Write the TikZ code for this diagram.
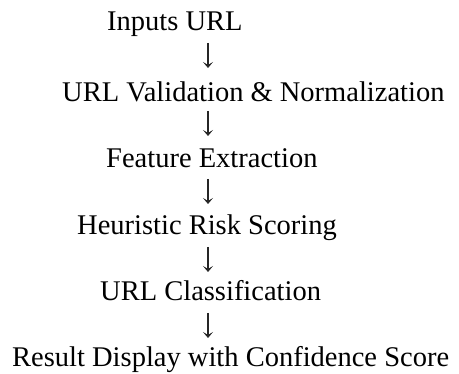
\documentclass[tikz,border=0pt]{standalone}
\usepackage{fontspec}
\setmainfont{Liberation Serif}
\usetikzlibrary{arrows.meta}
\begin{document}
\begin{tikzpicture}[x=1pt,y=-1pt,
  stagetext/.style={anchor=base west, inner sep=0pt, font=\fontsize{28.5}{33}\selectfont},
  flowarrow/.style={-{Stealth[length=6pt,width=10pt,inset=3pt]}, line width=1.1pt, draw=black!85}]
\useasboundingbox (0,0) rectangle (459,374);

% pipeline stages
\node[stagetext] (inp)  at (107,31)  {Inputs URL};
\node[stagetext] (val)  at (62,102)  {URL Validation \& Normalization};
\node[stagetext] (feat) at (106,168) {Feature Extraction};
\node[stagetext] (heur) at (77,235)  {Heuristic Risk Scoring};
\node[stagetext] (cls)  at (100,301) {URL Classification};
\node[stagetext] (res)  at (12,367)  {Result Display with Confidence Score};

% arrow ends on a common vertical axis
\coordinate (a1s) at (208,43);  \coordinate (a1e) at (208,68);
\coordinate (a2s) at (208,111); \coordinate (a2e) at (208,136);
\coordinate (a3s) at (208,179); \coordinate (a3e) at (208,204);
\coordinate (a4s) at (208,247); \coordinate (a4e) at (208,272);
\coordinate (a5s) at (208,313); \coordinate (a5e) at (208,338);

\draw[flowarrow] (a1s) -- (a1e);
\draw[flowarrow] (a2s) -- (a2e);
\draw[flowarrow] (a3s) -- (a3e);
\draw[flowarrow] (a4s) -- (a4e);
\draw[flowarrow] (a5s) -- (a5e);
\end{tikzpicture}
\end{document}
